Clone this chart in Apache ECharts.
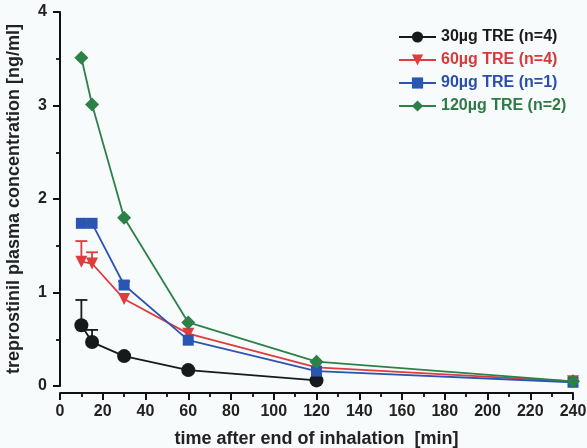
<!DOCTYPE html>
<html>
<head>
<meta charset="utf-8">
<script src="https://cdn.jsdelivr.net/npm/echarts@6/dist/echarts.min.js"></script>
<style>
html,body{margin:0;padding:0;background:#f8fbfc;}
#c{width:587px;height:448px;}
</style>
</head>
<body>
<div id="c"></div>
<script>
// ---- data ----
const times = [10, 15, 30, 60, 120, 240];
const xTicks = [0, 20, 40, 60, 80, 100, 120, 140, 160, 180, 200, 220, 240];
const yTicks = [0, 1, 2, 3, 4];
const names = ['30µg TRE (n=4)', '60µg TRE (n=4)', '90µg TRE (n=1)', '120µg TRE (n=2)'];
const tre30 = [0.65, 0.47, 0.32, 0.17, 0.06, null];
const tre60 = [1.33, 1.31, 0.93, 0.56, 0.20, 0.05];
const tre90 = [1.74, 1.74, 1.08, 0.49, 0.16, 0.04];
const tre120 = [3.51, 3.01, 1.80, 0.68, 0.26, 0.05];
// upper error bar ends (null = no bar)
const err30 = [0.92, 0.60, null, null, null, null];
const err60 = [1.55, 1.43, null, null, null, null];
const err90 = [null, null, 1.12, null, null, null];

const colors = ['#151a1c', '#e03b3d', '#2b55b3', '#2e8049'];
const textColors = ['#1a1a1a', '#d8393b', '#2a4fa8', '#2d7a45'];
const symbols = ['circle', 'triangle', 'rect', 'diamond'];
const symSizes = [14, 12, 11, 14];
const values = [tre30, tre60, tre90, tre120];
const errs = [err30, err60, err90, null];

const chart = echarts.init(document.getElementById('c'));
const font = '"Liberation Sans", Arial, Helvetica, sans-serif';

const series = [];
values.forEach((vals, i) => {
  series.push({
    name: names[i],
    type: 'line',
    data: times.map((t, k) => vals[k] == null ? null : [t, vals[k]]).filter(d => d),
    symbol: symbols[i],
    symbolSize: symSizes[i],
    symbolRotate: i === 1 ? 180 : 0,
    lineStyle: {color: colors[i], width: 1.8},
    itemStyle: {color: colors[i]},
    z: 3 + i,
    animation: false
  });
});
errs.forEach((e, i) => {
  if (!e) return;
  const d = [];
  times.forEach((t, k) => { if (e[k] != null) d.push([t, values[i][k], e[k]]); });
  series.push({
    type: 'custom',
    name: 'err' + i,
    z: 2,
    animation: false,
    data: d,
    encode: {x: 0, y: [1, 2]},
    renderItem: function (params, api) {
      const p0 = api.coord([api.value(0), api.value(1)]);
      const p1 = api.coord([api.value(0), api.value(2)]);
      const w = 6;
      return {
        type: 'group',
        children: [
          {type: 'line', shape: {x1: p0[0], y1: p0[1], x2: p1[0], y2: p1[1]}, style: {stroke: colors[i], lineWidth: 1.8}},
          {type: 'line', shape: {x1: p1[0] - w, y1: p1[1], x2: p1[0] + w, y2: p1[1]}, style: {stroke: colors[i], lineWidth: 1.8}}
        ]
      };
    }
  });
});

chart.setOption({
  backgroundColor: '#f8fbfc',
  animation: false,
  grid: {left: 60, right: 14, top: 12, bottom: 62, containLabel: false, outerBoundsMode: 'none'},
  legend: {
    orient: 'vertical',
    left: 393,
    top: 24,
    itemWidth: 37,
    itemHeight: 14,
    itemGap: 7,
    textStyle: {fontFamily: font, fontWeight: 'bold', fontSize: 16},
    data: names.map((n, i) => ({name: n, textStyle: {color: textColors[i]}}))
  },
  xAxis: {
    type: 'value',
    min: 0, max: 240, interval: 20,
    offset: 7,
    name: 'time after end of inhalation  [min]',
    nameLocation: 'middle',
    nameGap: 37,
    nameTextStyle: {fontFamily: font, fontWeight: 'bold', fontSize: 18, color: '#222'},
    axisLine: {show: true, onZero: false, lineStyle: {color: '#111', width: 2}},
    axisTick: {show: true, length: 7, lineStyle: {color: '#111', width: 2}},
    minorTick: {show: true, splitNumber: 2, length: 4, lineStyle: {color: '#111', width: 1.8}},
    axisLabel: {fontFamily: font, fontWeight: 'bold', fontSize: 16, color: '#222', margin: 11,
      formatter: v => xTicks.includes(v) ? String(v) : ''},
    splitLine: {show: false}
  },
  yAxis: {
    type: 'value',
    min: 0, max: 4, interval: 1,
    offset: 3,
    name: 'treprostinil plasma concentration [ng/ml]',
    nameLocation: 'middle',
    nameGap: 34,
    nameTextStyle: {fontFamily: font, fontWeight: 'bold', fontSize: 18, color: '#222'},
    axisLine: {show: true, lineStyle: {color: '#111', width: 2}},
    axisTick: {show: true, length: 7, lineStyle: {color: '#111', width: 2}},
    minorTick: {show: true, splitNumber: 2, length: 4, lineStyle: {color: '#111', width: 1.8}},
    axisLabel: {fontFamily: font, fontWeight: 'bold', fontSize: 16, color: '#222', margin: 10,
      formatter: v => yTicks.includes(v) ? String(v) : ''},
    splitLine: {show: false}
  },
  series: series
});
</script>
</body>
</html>
